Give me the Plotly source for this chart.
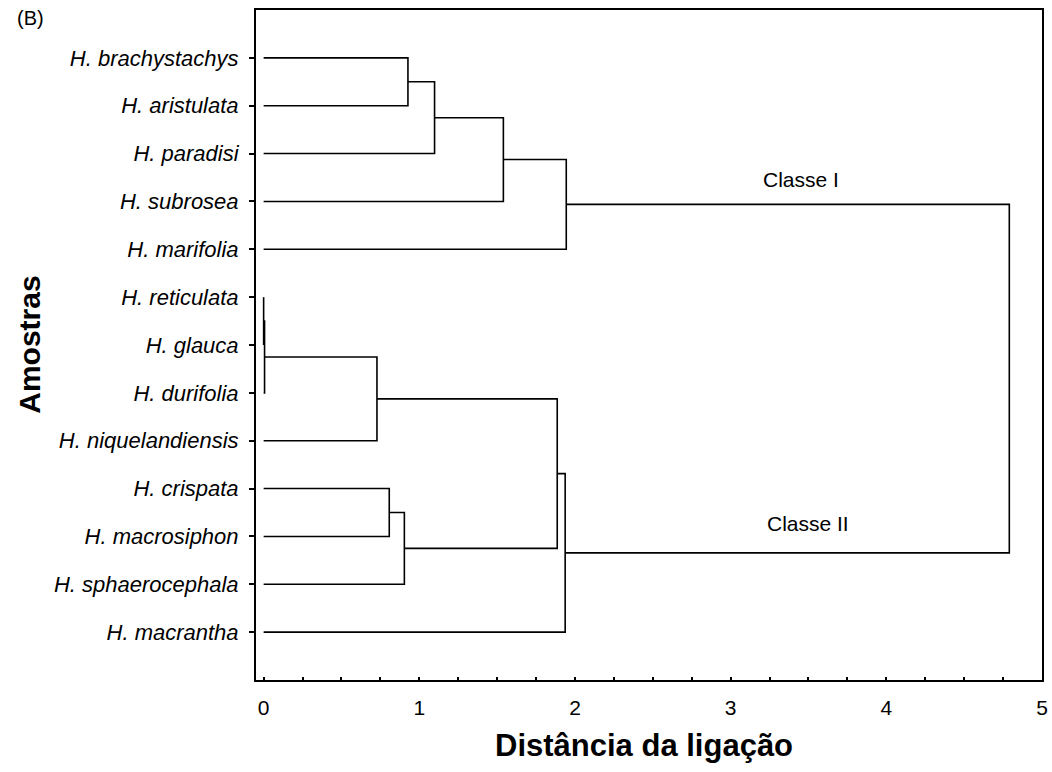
import plotly.graph_objects as go

# ---- data ----
leaves = ["H. brachystachys", "H. aristulata", "H. paradisi", "H. subrosea", "H. marifolia",
          "H. reticulata", "H. glauca", "H. durifolia", "H. niquelandiensis",
          "H. crispata", "H. macrosiphon", "H. sphaerocephala", "H. macrantha"]
# merges: (left child, right child, linkage distance); ints are leaves, "m#" refer to earlier merges
merge_left = [0, "m0", "m1", "m2", 5, "m4", "m5", 9, "m7", "m6", "m9", "m3"]
merge_right = [1, 2, 3, 4, 6, 7, 8, 10, 11, "m8", 12, "m10"]
merge_height = [0.927, 1.098, 1.54, 1.944, 0.0, 0.006, 0.728, 0.807, 0.904, 1.886, 1.937, 4.79]
class_labels = ["Classe I", "Classe II"]
class_x = [3.45, 3.50]
class_y = [3.55, 10.74]

# ---- build dendrogram segments ----
pos = {}   # node -> (x, y)
for i in range(len(leaves)):
    pos[i] = (0.0, i + 1)
xs, ys = [], []
for k, (a, b, h) in enumerate(zip(merge_left, merge_right, merge_height)):
    xa, ya = pos[a]
    xb, yb = pos[b]
    xs += [xa, h, h, xb, None]
    ys += [ya, ya, yb, yb, None]
    pos["m%d" % k] = (h, (ya + yb) / 2)

fig = go.Figure()
fig.add_trace(go.Scatter(x=xs, y=ys, mode="lines",
                         line=dict(color="black", width=1.6), hoverinfo="skip",
                         showlegend=False))

FONT = "Arial, Liberation Sans, sans-serif"
L, R, T, B = 256, 4, 10, 92
PW = 1052 - L - R
PH = 772 - T - B
fig.update_layout(
    width=1052, height=772,
    margin=dict(l=L, r=R, t=T, b=B),
    plot_bgcolor="white", paper_bgcolor="white",
    font=dict(family=FONT, color="black", size=18),
    showlegend=False,
)
fig.update_xaxes(range=[-0.049, 5.0], showgrid=False, zeroline=False,
                 showline=True, linecolor="black", linewidth=2, mirror=True,
                 tickmode="linear", tick0=0, dtick=1, ticks="inside", ticklen=3,
                 tickwidth=1.5, tickcolor="black", ticklabelstandoff=8,
                 minor=dict(dtick=0.25, tick0=0, ticks="inside", ticklen=3, tickwidth=1.5,
                            tickcolor="black"),
                 tickfont=dict(size=21, family=FONT))
fig.update_yaxes(range=[14, 0], showgrid=False, zeroline=False,
                 showline=True, linecolor="black", linewidth=2, mirror=True,
                 tickmode="array", tickvals=list(range(1, len(leaves) + 1)),
                 ticktext=leaves, ticks="outside", ticklen=5, tickwidth=1.5,
                 tickcolor="black", ticklabelstandoff=6,
                 tickfont=dict(size=22, family=FONT, style="italic"))

for t, x, y in zip(class_labels, class_x, class_y):
    fig.add_annotation(x=x, y=y, text=t, showarrow=False,
                       xanchor="center", yanchor="middle",
                       font=dict(size=21, family=FONT))

fig.add_annotation(xref="paper", yref="paper", x=(13 - L) / PW, y=1 - (18 - T) / PH,
                   xanchor="left", yanchor="middle", text="(B)", showarrow=False,
                   font=dict(size=20, family=FONT))
fig.add_annotation(xref="paper", yref="paper", x=(27 - L) / PW, y=0.5,
                   xanchor="center", yanchor="middle",
                   text="<b>Amostras</b>", textangle=-90, showarrow=False,
                   font=dict(size=30, family=FONT))
fig.add_annotation(xref="paper", yref="paper", x=(647 - L) / PW, y=1 - (745 - T) / PH,
                   xanchor="center", yanchor="middle",
                   text="<b>Distância da ligação</b>", showarrow=False,
                   font=dict(size=31, family=FONT))

fig.write_html("out.html")
